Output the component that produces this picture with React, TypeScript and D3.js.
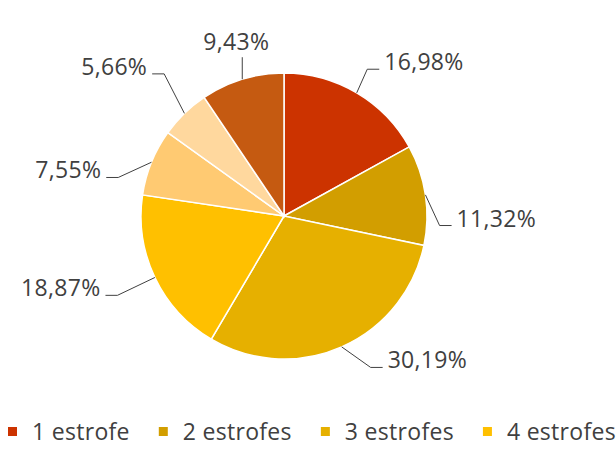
import React, { useEffect, useRef } from 'react';
import * as d3 from 'd3';

// share of poems by number of stanzas (%)
const categories = ['1 estrofe', '2 estrofes', '3 estrofes', '4 estrofes', '5 estrofes', '6 estrofes', '7 estrofes'];
const shares = [16.98, 11.32, 30.19, 18.87, 7.55, 5.66, 9.43];
const colors = ['#CC3300', '#D29E00', '#E6B000', '#FFC000', '#FFCA72', '#FFD89E', '#C55A11'];

// leader-line tweaks (degrees off the mid angle, radius factor for the elbow)
const nudgeAngle = [-1, 12, -6, 0, -9, 4, 0];
const nudgeRadius = [1.18, 1.09, 1.22, 1.29, 1.19, 1.3, 1.15];

const fmt = (v: number) => v.toFixed(2).replace('.', ',') + '%';

export default function App() {
  const ref = useRef<SVGSVGElement>(null);

  useEffect(() => {
    const width = 616;
    const height = 465;
    const cx = 284;
    const cy = 216;
    const r = 143;
    const font = "'Open Sans', sans-serif";
    const fontSize = 23;
    const spacing = 0.3;
    const textColor = '#404040';

    const svg = d3.select(ref.current).attr('width', width).attr('height', height);
    svg.selectAll('*').remove();

    const pie = d3.pie<number>().sort(null).value(d => d);
    const arcs = pie(shares);
    const arc = d3.arc<d3.PieArcDatum<number>>().innerRadius(0).outerRadius(r);

    const g = svg.append('g').attr('transform', `translate(${cx},${cy})`);

    g.selectAll('path')
      .data(arcs)
      .enter()
      .append('path')
      .attr('d', arc)
      .attr('fill', (d, i) => colors[i])
      .attr('stroke', '#fff')
      .attr('stroke-width', 1.5);

    // labels with leader lines
    const pt = (a: number, rad: number) => [Math.sin(a) * rad, -Math.cos(a) * rad];
    arcs.forEach((d, i) => {
      const mid = (d.startAngle + d.endAngle) / 2;
      const [sx, sy] = pt(mid, r);
      const label = fmt(shares[i]);
      if (Math.abs(Math.sin(mid)) < 0.35 && Math.cos(mid) > 0) {
        // near the top: straight up
        const top = sy - 22;
        g.append('path')
          .attr('d', `M${sx},${sy}V${top}`)
          .attr('stroke', textColor)
          .attr('fill', 'none');
        g.append('text')
          .attr('x', sx - 6)
          .attr('y', top - 7)
          .attr('text-anchor', 'middle')
          .attr('font-family', font)
          .attr('font-size', fontSize)
          .attr('letter-spacing', spacing)
          .attr('fill', textColor)
          .text(label);
        return;
      }
      const a2 = mid + (nudgeAngle[i] * Math.PI) / 180;
      const [ex, ey] = pt(a2, r * nudgeRadius[i]);
      const right = Math.sin(a2) > 0;
      const hx = ex + (right ? 12 : -12);
      g.append('path')
        .attr('d', `M${sx},${sy}L${ex},${ey}H${hx}`)
        .attr('stroke', textColor)
        .attr('fill', 'none');
      g.append('text')
        .attr('x', hx + (right ? 5 : -5))
        .attr('y', ey + 1)
        .attr('text-anchor', right ? 'start' : 'end')
        .attr('font-family', font)
        .attr('font-size', fontSize)
        .attr('letter-spacing', spacing)
        .attr('fill', textColor)
        .text(label);
    });

    // legend (runs off the right edge like the original)
    const legend = svg.append('g');
    let x = 8;
    categories.forEach((c, i) => {
      legend.append('rect')
        .attr('x', x)
        .attr('y', 427)
        .attr('width', 9)
        .attr('height', 9)
        .attr('fill', colors[i]);
      const t = legend.append('text')
        .attr('x', x + 24)
        .attr('y', 440)
        .attr('font-family', font)
        .attr('font-size', fontSize)
        .attr('letter-spacing', spacing)
        .attr('fill', textColor)
        .text(c);
      const w = (t.node() as SVGTextElement).getComputedTextLength();
      x = x + 24 + w + 29;
    });
  });

  return (
    <svg
      ref={ref}
      style={{ position: 'absolute', left: 0, top: 0, display: 'block', overflow: 'hidden' }}
    />
  );
}
